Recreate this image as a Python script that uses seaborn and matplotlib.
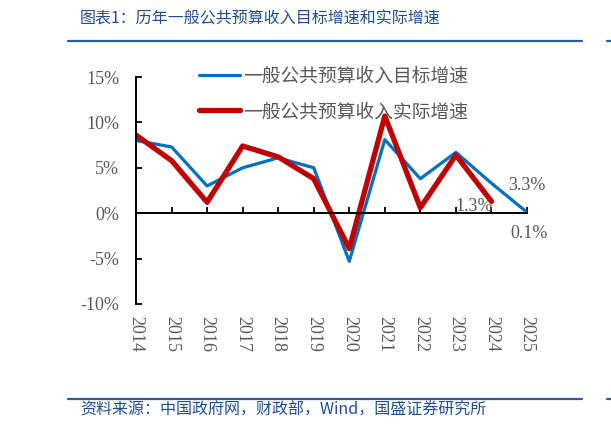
import numpy as np
import pandas as pd
import matplotlib
matplotlib.use("Agg")
import matplotlib.pyplot as plt
import seaborn as sns

# ---- Data -------------------------------------------------------------------
years = [2014, 2015, 2016, 2017, 2018, 2019, 2020, 2021, 2022, 2023, 2024, 2025]
target_growth = [8.0, 7.3, 3.0, 5.0, 6.1, 5.0, -5.3, 8.1, 3.8, 6.7, 3.3, 0.1]
actual_growth = [8.6, 5.8, 1.2, 7.4, 6.2, 3.8, -3.9, 10.7, 0.6, 6.4, 1.3, np.nan]
target_label = "一般公共预算收入目标增速"
actual_label = "一般公共预算收入实际增速"
y_ticks = [-10, -5, 0, 5, 10, 15]
notes = [("3.3%", 2025.0, 3.1), ("1.3%", 2023.5, 0.7), ("0.1%", 2025.05, -2.2)]

df = pd.DataFrame({"year": years, "target": target_growth, "actual": actual_growth})

# ---- Style ------------------------------------------------------------------
sns.set_theme(style="white")
plt.rcParams["font.family"] = ["Liberation Serif", "Noto Sans CJK SC", "DejaVu Sans"]
grey = "#595959"
navy = "#1F4E96"
blue = "#0070C0"
red = "#C00000"
cjk = ["Noto Sans CJK SC", "DejaVu Sans"]

fig = plt.figure(figsize=(6.11, 4.26), dpi=100)
ax = fig.add_axes([136 / 611, 1 - 304 / 426, (527 - 136) / 611, (304 - 77) / 426])

sns.lineplot(data=df, x="year", y="target", ax=ax, color=blue, linewidth=2.3,
             label=target_label)
sns.lineplot(data=df, x="year", y="actual", ax=ax, color=red, linewidth=3.8,
             label=actual_label)

ax.set_xlim(2014, 2025)
ax.set_ylim(-10, 15)
ax.set_xlabel("")
ax.set_ylabel("")

ax.set_yticks(y_ticks)
ax.set_yticklabels([f"{v}%" for v in y_ticks], color=grey, fontsize=13)
ax.tick_params(axis="y", direction="in", length=4, width=1.3, color="black",
               left=True, pad=12)

for side in ["top", "right"]:
    ax.spines[side].set_visible(False)
ax.spines["left"].set_color("black")
ax.spines["left"].set_linewidth(1.4)
ax.spines["bottom"].set_position(("data", 0))
ax.spines["bottom"].set_color("black")
ax.spines["bottom"].set_linewidth(1.4)
ax.set_xticks(years)
ax.tick_params(axis="x", direction="in", length=4, width=1.3, color="black",
               bottom=True, labelbottom=False)

sec = ax.secondary_xaxis(0.0)
sec.set_xticks(years)
sec.set_xticklabels([str(y) for y in years], rotation=270, color=grey, fontsize=13)
sec.tick_params(length=0, pad=9)
sec.spines["bottom"].set_visible(False)

for text, x, y in notes:
    ax.text(x, y, text, ha="center", va="center", color=grey, fontsize=13)

leg = ax.legend(loc="center left", bbox_to_anchor=(0.161, 0.925), frameon=False,
                borderpad=0, borderaxespad=0,
                handlelength=2.2, handletextpad=0.15, labelspacing=0.75,
                prop={"family": cjk, "size": 13.5, "weight": "light"})
for t in leg.get_texts():
    t.set_color(grey)

# ---- Header / footer --------------------------------------------------------
fig.text(80 / 611, 1 - 19 / 426, "图表1：历年一般公共预算收入目标增速和实际增速",
         family=cjk, fontsize=11.5, color=navy, va="center", style="italic")
fig.text(80 / 611, 1 - 410 / 426, "资料来源：中国政府网，财政部，Wind，国盛证券研究所",
         family=cjk, fontsize=11.5, color=navy, va="center", style="italic")
for yy in [41, 399]:
    fig.add_artist(plt.Line2D([68 / 611, 582 / 611], [1 - yy / 426] * 2,
                              color="#2E5C9E", linewidth=1.6))
    fig.add_artist(plt.Line2D([607 / 611, 1.0], [1 - yy / 426] * 2,
                              color="#2E5C9E", linewidth=1.6))

fig.savefig("out.png", dpi=100)
